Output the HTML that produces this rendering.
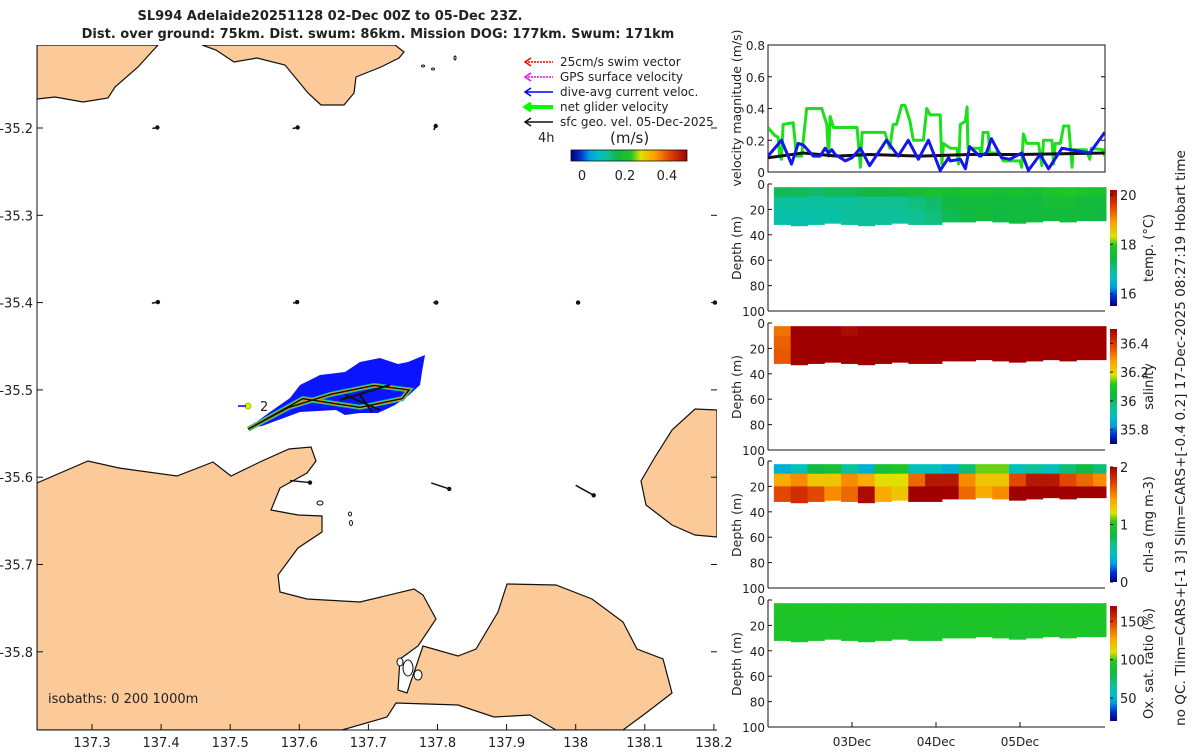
<!DOCTYPE html>
<html><head><meta charset="utf-8"><style>
body{margin:0;background:#fff;width:1200px;height:750px;overflow:hidden;font-family:"DejaVu Sans","Liberation Sans",sans-serif}
svg text{font-family:"DejaVu Sans","Liberation Sans",sans-serif;fill:#222}
</style></head><body>
<svg id="root" width="1200" height="750" viewBox="0 0 1200 750" xmlns="http://www.w3.org/2000/svg">
<defs>
<linearGradient id="jetH" x1="0" x2="1" y1="0" y2="0"></linearGradient>
<linearGradient id="jetV" x1="0" x2="0" y1="1" y2="0"></linearGradient>
<clipPath id="mapclip"><rect x="37" y="45" width="680" height="685"/></clipPath>
<clipPath id="velclip"><rect x="768" y="45" width="337" height="127"/></clipPath>
</defs>
<text x="330" y="20" text-anchor="middle" font-size="13" font-weight="bold">SL994 Adelaide20251128 02-Dec 00Z to 05-Dec 23Z.</text>
<text x="378" y="38" text-anchor="middle" font-size="13" font-weight="bold">Dist. over ground: 75km. Dist. swum: 86km. Mission DOG: 177km. Swum: 171km</text>
<g id="map"></g>
<g id="right"></g>
<text transform="translate(1185,726) rotate(-90)" font-size="13.6">no QC. Tlim=CARS+[-1 3] Slim=CARS+[-0.4 0.2] 17-Dec-2025 08:27:19 Hobart time</text>
</svg>
<script>
const NS="http://www.w3.org/2000/svg";
function mk(p,tag,a,txt){const e=document.createElementNS(NS,tag);for(const k in a)e.setAttribute(k,a[k]);if(txt!==undefined)e.textContent=txt;p.appendChild(e);return e;}
const CM=[[0,'#00007f'],[0.08,'#0030d0'],[0.16,'#00a0e0'],[0.24,'#00c0c0'],[0.32,'#10c090'],[0.4,'#10b845'],[0.52,'#20c820'],[0.6,'#e0e000'],[0.72,'#ffa000'],[0.86,'#e04000'],[1,'#a00000']];
['jetH','jetV'].forEach(id=>{const g=document.getElementById(id);CM.forEach(s=>mk(g,'stop',{offset:s[0],'stop-color':s[1]}));});
const hx=h=>[1,3,5].map(i=>parseInt(h.substr(i,2),16));
function jet(t){t=Math.max(0,Math.min(1,t));for(let i=1;i<CM.length;i++){if(t<=CM[i][0]){const a=hx(CM[i-1][1]),b=hx(CM[i][1]),f=(t-CM[i-1][0])/(CM[i][0]-CM[i-1][0]);return `rgb(${a.map((v,k)=>Math.round(v+(b[k]-v)*f)).join(',')})`;}}return CM[CM.length-1][1];}

// ---------- MAP ----------
const lonTicks=[137.3,137.4,137.5,137.6,137.7,137.8,137.9,138,138.1,138.2];
const latTicks=[-35.2,-35.3,-35.4,-35.5,-35.6,-35.7,-35.8];
const trackLon=[137.526,137.585,137.646,137.708,137.759,137.749,137.688,137.646,137.605,137.526];
const trackLat=[-35.545,-35.52,-35.505,-35.495,-35.50,-35.51,-35.52,-35.515,-35.51,-35.545];
const arrowLon=[137.391,137.594,137.796,137.391,137.594,137.796,138.002,138.2,137.601,137.804,138.013];
const arrowLat=[-35.20,-35.20,-35.20,-35.40,-35.40,-35.40,-35.40,-35.40,-35.605,-35.61,-35.615];
const arrowU=[0.05,0.05,0.02,0.06,0.04,0.03,0.02,0.02,0.2,0.18,0.18];
const arrowV=[0.01,0.01,0.04,0.01,0.01,0.0,0.0,0.0,-0.02,-0.06,-0.1];
const mx=lon=>92+(lon-137.3)*691, my=lat=>128+(-35.2-lat)*873;
const map=document.getElementById('map');
mk(map,'rect',{x:37,y:45,width:680,height:685,fill:'#fff'});
const land=[
"37,99 55,97 83,102 108,98 115,87 138,67 158,45 37,45",
"202,45 216,50 234,62 257,58 285,65 308,93 321,105 344,105 354,93 356,77 381,67 399,58 404,52 395,45",
"37,483 88,461 119,468 177,476 213,462 231,476 262,461 289,449 311,447 316,461 307,473 280,488 271,510 298,515 322,516 322,532 298,548 278,575 280,592 307,599 360,602 414,589 423,595 436,619 418,646 400,659 398,690 407,693 423,646 458,656 476,649 498,612 507,584 556,585 592,599 623,622 637,649 663,659 672,693 646,713 623,730 556,730 530,715 494,717 458,705 396,703 387,717 342,730 37,730",
"695,409 717,410 717,537 695,535 672,525 646,505 641,481 655,457 672,430"];
const lg=mk(map,'g',{'clip-path':'url(#mapclip)'});
land.forEach((p,i)=>{const e=mk(lg,'polygon',{points:p,fill:'#fbca98',stroke:'#111','stroke-width':1.2});
});
[[408,668,5,8],[418,675,4,5],[400,662,3,4]].forEach(b=>mk(lg,'ellipse',{cx:b[0],cy:b[1],rx:b[2],ry:b[3],fill:'#fff',stroke:'#111'}));
[[320,503,3,2],[350,514,1.5,2],[351,523,1.5,2.5],[423,66,1.5,1],[433,69,1.5,1],[455,58,1,2]].forEach(b=>mk(lg,'ellipse',{cx:b[0],cy:b[1],rx:b[2],ry:b[3],fill:'none',stroke:'#111','stroke-width':1}));
const fan=mk(lg,'polygon',{points:"248,428 270,412 290,398 300,385 320,375 345,372 360,362 380,358 398,364 408,362 425,355 422,372 420,385 408,396 395,405 378,413 360,413 345,415 336,410 300,412 262,426",fill:'#0a14ff'});

let tp=trackLon.map((l,i)=>mx(l)+','+my(trackLat[i])).join(' ');
mk(lg,'polyline',{points:tp,fill:'none',stroke:'#00c8a0','stroke-width':5});
const tr=mk(lg,'polyline',{points:tp,fill:'none',stroke:'#f0a000','stroke-width':3});

mk(lg,'polyline',{points:tp,fill:'none',stroke:'#111','stroke-width':1.5});
mk(lg,'path',{d:"M340,400 L390,385 M345,395 L380,410 M360,395 L372,412",stroke:'#111','stroke-width':2,fill:'none'});
mk(lg,'circle',{cx:248,cy:406,r:3,fill:'#e8e800',stroke:'#9c0'});
mk(lg,'line',{x1:238,y1:406,x2:246,y2:406,stroke:'#00f','stroke-width':1.5});
mk(lg,'text',{x:260,y:411,'font-size':13},'2');
arrowLon.forEach((l,i)=>{const x=mx(l),y=my(arrowLat[i]),dx=arrowU[i]*50,dy=-arrowV[i]*50;
const a=mk(lg,'line',{x1:x-dx,y1:y-dy,x2:x+dx,y2:y+dy,stroke:'#111','stroke-width':1.5});

mk(lg,'circle',{cx:x+dx,cy:y+dy,r:2.2,fill:'#111'});});
mk(map,'line',{x1:37,y1:45,x2:37,y2:730,stroke:'#111'});
mk(map,'line',{x1:37,y1:730,x2:717,y2:730,stroke:'#111'});
lonTicks.forEach(v=>{const x=mx(v);mk(map,'line',{x1:x,y1:730,x2:x,y2:724,stroke:'#111'});
const t=mk(map,'text',{x:x,y:747,'text-anchor':'middle','font-size':13},String(v));});
latTicks.forEach(v=>{const y=my(v);mk(map,'line',{x1:37,y1:y,x2:43,y2:y,stroke:'#111'});mk(map,'line',{x1:711,y1:y,x2:717,y2:y,stroke:'#111'});
const t=mk(map,'text',{x:33,y:y+5,'text-anchor':'end','font-size':13},String(v));});
mk(map,'text',{x:48,y:703,'font-size':13},'isobaths: 0   200  1000m');
const legLabels=['25cm/s swim vector','GPS surface velocity','dive-avg current veloc.','net glider velocity','sfc geo. vel. 05-Dec-2025'];
const legCols=['#f00','#f0f','#00f','#0f0','#111'];
legLabels.forEach((s,i)=>{const y=62+i*15;const g=mk(map,'g',{});

mk(g,'line',{x1:525,y1:y,x2:553,y2:y,stroke:legCols[i],'stroke-width':i==3?4:1.5,'stroke-dasharray':i<2?'2,1':''});
mk(g,'path',{d:`M531,${y-4} L525,${y} L531,${y+4}`,stroke:legCols[i],fill:'none','stroke-width':i==3?3:1.5});
mk(g,'text',{x:560,y:y+4,'font-size':12},s);});
mk(map,'text',{x:538,y:142,'font-size':13},'4h');
mk(map,'text',{x:610,y:143,'font-size':15},'(m/s)');
const mcb=mk(map,'rect',{x:571,y:150,width:116,height:11,fill:'url(#jetH)',stroke:'#111','stroke-width':0.8});

[[0,582],[0.2,625],[0.4,667]].forEach(t=>mk(map,'text',{x:t[1],y:180,'text-anchor':'middle','font-size':13},String(t[0])));

// ---------- RIGHT PANELS ----------
const R=document.getElementById('right');
const X0=768,X1=1105,DAYPX=84;
const tx=d=>X0+d*DAYPX;
const greenT=[0,0.08,0.12,0.14,0.16,0.18,0.3,0.34,0.4,0.46,0.64,0.7,0.72,0.74,0.78,1.06,1.1,1.12,1.39,1.45,1.49,1.53,1.59,1.63,1.69,1.73,1.85,1.89,1.93,2.05,2.07,2.09,2.17,2.25,2.27,2.29,2.35,2.37,2.38,2.52,2.54,2.56,2.62,2.64,2.76,2.8,3.0,3.02,3.04,3.08,3.22,3.26,3.28,3.38,3.4,3.42,3.48,3.52,3.58,3.62,3.63,3.79,3.83,3.85,3.99,4.01];
const greenV=[0.28,0.23,0.22,0.1,0.08,0.3,0.31,0.1,0.1,0.4,0.4,0.3,0.1,0.35,0.28,0.28,0.03,0.25,0.25,0.15,0.3,0.3,0.42,0.42,0.32,0.2,0.2,0.4,0.36,0.36,0.05,0.18,0.15,0.15,0.05,0.3,0.32,0.41,0.15,0.15,0.1,0.25,0.25,0.12,0.12,0.07,0.07,0.03,0.24,0.18,0.18,0.04,0.2,0.2,0.05,0.18,0.18,0.29,0.29,0.03,0.14,0.14,0.08,0.15,0.14,0.1];
const blueT=[0,0.16,0.28,0.36,0.42,0.54,0.62,0.68,0.72,0.76,0.8,0.92,1.0,1.1,1.21,1.41,1.55,1.67,1.79,1.91,2.05,2.15,2.17,2.29,2.35,2.4,2.52,2.6,2.66,2.78,2.88,3.02,3.1,3.24,3.34,3.5,3.6,3.83,4.01];
const blueV=[0.1,0.2,0.05,0.18,0.17,0.1,0.1,0.15,0.12,0.14,0.11,0.07,0.09,0.15,0.04,0.2,0.1,0.2,0.08,0.2,0.01,0.09,0.07,0.08,0.02,0.16,0.1,0.12,0.21,0.09,0.08,0.12,0.01,0.11,0.02,0.15,0.14,0.12,0.25];
const blackT=[0,0.42,0.82,1.21,1.81,2.4,3.0,4.01];
const blackV=[0.09,0.12,0.1,0.11,0.1,0.11,0.11,0.12];
const velTicks=[0,0.2,0.4,0.6,0.8];
const vy=v=>172-v/0.8*127;
const vp=mk(R,'g',{});
mk(vp,'rect',{x:X0,y:45,width:X1-X0,height:127,fill:'#fff',stroke:'#111','stroke-width':1});
velTicks.forEach(v=>{const y=vy(v);mk(vp,'line',{x1:X0,y1:y,x2:X0+4,y2:y,stroke:'#111'});mk(vp,'line',{x1:X1-4,y1:y,x2:X1,y2:y,stroke:'#111'});
mk(vp,'text',{x:X0-3,y:y+5,'text-anchor':'end','font-size':12},String(v));});
mk(vp,'text',{transform:'translate(741,108) rotate(-90)','text-anchor':'middle','font-size':12.5},'velocity magnitude (m/s)');
const cg=mk(vp,'g',{'clip-path':'url(#velclip)'});
function line(T,V,col,w,name){const e=mk(cg,'polyline',{points:T.map((t,i)=>tx(t)+','+vy(V[i])).join(' '),fill:'none',stroke:col,'stroke-width':w,'stroke-linejoin':'round'});}
line(greenT,greenV,'#1de01d',3,'net-glider-velocity-line');
line(blackT,blackV,'#111',3,'surface-geo-velocity-line');
line(blueT,blueV,'#1515ee',3,'dive-avg-current-line');

const colT=[0.07,0.27,0.47,0.67,0.87,1.07,1.27,1.47,1.67,1.87,2.07,2.27,2.47,2.67,2.87,3.07,3.27,3.47,3.67,3.87];
const botDepth=[32,33,32,31,32,33,32,31,32,32,30,30,29,30,31,30,29,30,29,29];
const tempTop=[17.3,17.3,17.2,17.3,17.3,17.4,17.4,17.5,17.6,17.7,17.6,17.7,17.7,17.6,17.7,17.6,17.8,17.9,17.8,17.7];
const tempMid=[16.9,16.9,16.9,16.9,16.9,17.0,17.0,17.0,17.1,17.2,17.4,17.5,17.5,17.5,17.5,17.5,17.6,17.6,17.5,17.5];
const tempBot=[16.8,16.8,16.8,16.8,16.9,16.9,16.9,16.9,17.0,17.1,17.3,17.4,17.5,17.4,17.5,17.5,17.5,17.5,17.5,17.4];
const salTop=[36.33,36.5,36.5,36.5,36.48,36.5,36.5,36.5,36.5,36.5,36.5,36.5,36.5,36.5,36.5,36.5,36.5,36.5,36.5,36.5];
const salMid=[36.35,36.5,36.5,36.5,36.5,36.5,36.5,36.5,36.5,36.5,36.5,36.5,36.5,36.5,36.5,36.5,36.5,36.5,36.5,36.5];
const salBot=[36.36,36.5,36.5,36.5,36.5,36.5,36.5,36.5,36.5,36.5,36.5,36.5,36.5,36.5,36.5,36.5,36.5,36.5,36.5,36.5];
const chlTop=[0.4,0.5,0.8,0.9,0.6,0.4,0.9,1.0,0.5,0.5,0.4,0.7,1.1,1.1,0.5,0.6,0.5,0.7,0.8,0.7];
const chlMid=[1.4,1.5,1.3,1.3,1.5,1.4,1.2,1.2,1.6,1.9,1.9,1.5,1.3,1.3,1.7,1.9,1.9,1.7,1.6,1.5];
const chlBot=[1.7,1.8,1.7,1.5,1.6,1.95,1.4,1.3,2.0,2.0,2.0,1.6,1.4,1.5,2.0,2.0,2.0,2.0,2.0,2.0];
const oxyTop=[96,96,96,96,96,96,96,96,96,96,96,96,96,96,96,96,96,96,96,96];
const oxyMid=[94,93,93,94,94,93,94,94,93,93,93,94,94,94,93,93,94,94,94,94];
const oxyBot=[93,92,92,93,93,92,93,93,92,92,92,93,93,93,92,92,93,93,93,93];

function section(name,y0,top,mid,bot,vmin,vmax,cbTicks,label,cbTop,cbBot){
 const g=mk(R,'g',{});
 const dy=d=>y0+d/100*127;
 mk(g,'line',{x1:X0,y1:y0,x2:X0,y2:y0+127,stroke:'#111'});
 mk(g,'line',{x1:X0,y1:y0+127,x2:X1,y2:y0+127,stroke:'#111'});
 [0,20,40,60,80,100].forEach(d=>{mk(g,'line',{x1:X0,y1:dy(d),x2:X0+4,y2:dy(d),stroke:'#111'});mk(g,'text',{x:X0-3,y:dy(d)+5,'text-anchor':'end','font-size':12},String(d));});
 mk(g,'text',{transform:`translate(741,${y0+64}) rotate(-90)`,'text-anchor':'middle','font-size':12.5},'Depth (m)');
 const bins=[[2.5,10],[10,20],[20,null]],vals=[top,mid,bot];
 const norm=v=>(v-vmin)/(vmax-vmin);
 colT.forEach((t,i)=>{const x=tx(t),w=(i<colT.length-1?tx(colT[i+1]):1106)-x+0.5;
  bins.forEach((b,j)=>{const d2=b[1]===null?botDepth[i]:b[1];
   const c=mk(g,'rect',{x:x,y:dy(b[0]),width:w,height:dy(d2)-dy(b[0])+0.3,fill:jet(norm(vals[j][i]))});
   });});
 const cb=mk(g,'rect',{x:1110,y:cbTop,width:7,height:cbBot-cbTop,fill:'url(#jetV)'});
 
 cbTicks.forEach(v=>{const y=cbBot-(v-vmin)/(vmax-vmin)*(cbBot-cbTop);mk(g,'line',{x1:1110,y1:y,x2:1113,y2:y,stroke:'#111'});
  mk(g,'text',{x:1120,y:y+5,'font-size':13},String(v));});
 mk(g,'text',{transform:`translate(1153,${(cbTop+cbBot)/2}) rotate(-90)`,'text-anchor':'middle','font-size':13},label);
}
section('temperature-section',184,tempTop,tempMid,tempBot,15.5,20.2,[16,18,20],'temp. (°C)',190,306);
section('salinity-section',323,salTop,salMid,salBot,35.7,36.5,[35.8,36,36.2,36.4],'salinity',329,444);
section('chlorophyll-section',461,chlTop,chlMid,chlBot,0,2,[0,1,2],'chl-a (mg m-3)',467,582);
section('oxygen-section',600,oxyTop,oxyMid,oxyBot,20,170,[50,100,150],'Ox. sat. ratio (%)',606,721);
const dayLabels=['03Dec','04Dec','05Dec'];
dayLabels.forEach((s,i)=>{const x=tx(i+1);mk(R,'line',{x1:x,y1:727,x2:x,y2:722,stroke:'#111'});
 const t=mk(R,'text',{x:x,y:746,'text-anchor':'middle','font-size':12},s);});
</script>
</body></html>
